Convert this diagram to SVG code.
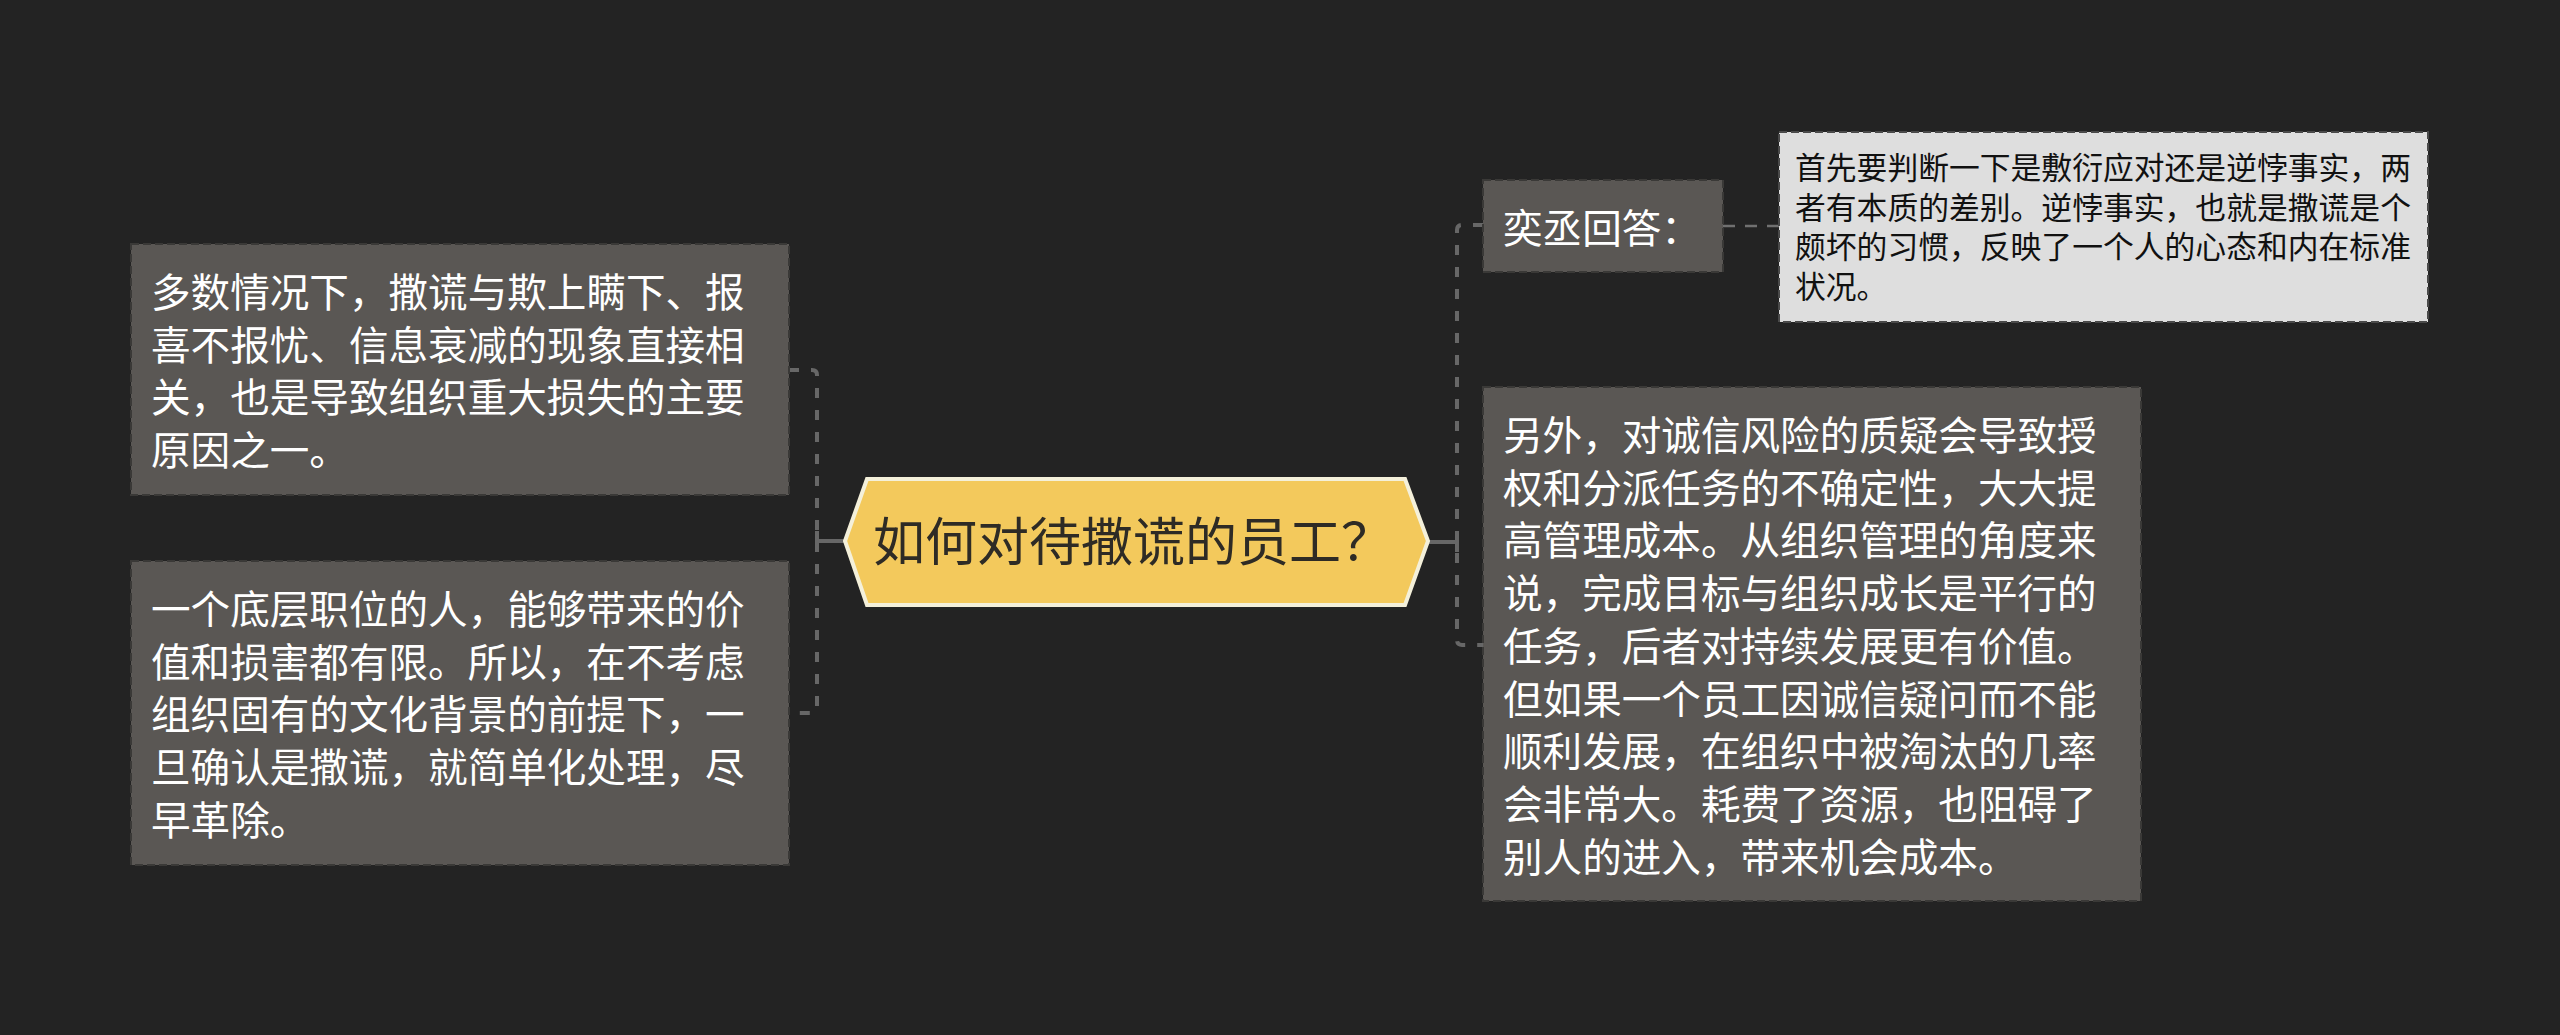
<svg xmlns="http://www.w3.org/2000/svg" width="2560" height="1035" viewBox="0 0 2560 1035">
<style>
  .bg { fill: #232323; }
  .box { fill: #5a5754; stroke: #3a3937; stroke-width: 2; stroke-dasharray: 8 4; }
  .lbox { fill: #dedede; stroke: #4a4a4a; stroke-width: 2; stroke-dasharray: 8 4; }
  .t { font-family: "Noto Sans CJK SC", "Noto Sans", sans-serif; font-size: 39.6px; fill: #ffffff; }
  .ts { font-family: "Noto Sans CJK SC", "Noto Sans", sans-serif; font-size: 30.8px; fill: #111111; }
  .title { font-family: "Noto Sans CJK SC", "Noto Sans", sans-serif; font-size: 52px; fill: #2e2b25; }
  .dash { fill: none; stroke: #676767; stroke-width: 4; stroke-dasharray: 10 12; }
  .solid { fill: none; stroke: #676767; stroke-width: 4; }
  .thin { fill: none; stroke: #707070; stroke-width: 2.5; stroke-dasharray: 12 10; }
</style>
<rect class="bg" x="0" y="0" width="2560" height="1035"/>

<g id="connectors">
  <path class="dash" d="M789,370 H812 Q817,370 817,375 V708 Q817,713 812,713 H789"/>
  <path class="solid" d="M845,541 H817 M817,531 V551"/>
  <path class="dash" d="M1483,225 H1462 Q1457,225 1457,230 V640 Q1457,645 1462,645 H1483"/>
  <path class="solid" d="M1428,542 H1457 M1457,532 V552"/>
  <path class="thin" d="M1723,226 H1779"/>
</g>

<g id="center">
  <polygon points="845,541 867,479 1405,479 1428,541 1405,605 867,605" fill="#f3c95c" stroke="#f4f0da" stroke-width="4"/>
  <text class="title" x="873" y="561">如何对待撒谎的员工？</text>
</g>

<g id="left1">
  <rect class="box" x="131" y="244" width="658" height="251"/>
  <text class="t" x="151" y="307">多数情况下，撒谎与欺上瞒下、报</text>
  <text class="t" x="151" y="359.7">喜不报忧、信息衰减的现象直接相</text>
  <text class="t" x="151" y="412.4">关，也是导致组织重大损失的主要</text>
  <text class="t" x="151" y="465.1">原因之一。</text>
</g>

<g id="left2">
  <rect class="box" x="131" y="561" width="658" height="304"/>
  <text class="t" x="151" y="624">一个底层职位的人，能够带来的价</text>
  <text class="t" x="151" y="676.7">值和损害都有限。所以，在不考虑</text>
  <text class="t" x="151" y="729.4">组织固有的文化背景的前提下，一</text>
  <text class="t" x="151" y="782.1">旦确认是撒谎，就简单化处理，尽</text>
  <text class="t" x="151" y="834.8">早革除。</text>
</g>

<g id="answer">
  <rect class="box" x="1483" y="180" width="240" height="92"/>
  <text class="t" x="1503" y="243">奕丞回答：</text>
</g>

<g id="answer-detail">
  <rect class="lbox" x="1779" y="132" width="649" height="190"/>
  <text class="ts" x="1795" y="179">首先要判断一下是敷衍应对还是逆悖事实，两</text>
  <text class="ts" x="1795" y="218.7">者有本质的差别。逆悖事实，也就是撒谎是个</text>
  <text class="ts" x="1795" y="258.4">颇坏的习惯，反映了一个人的心态和内在标准</text>
  <text class="ts" x="1795" y="298.1">状况。</text>
</g>

<g id="right2">
  <rect class="box" x="1483" y="387" width="658" height="514"/>
  <text class="t" x="1503" y="450">另外，对诚信风险的质疑会导致授</text>
  <text class="t" x="1503" y="502.7">权和分派任务的不确定性，大大提</text>
  <text class="t" x="1503" y="555.4">高管理成本。从组织管理的角度来</text>
  <text class="t" x="1503" y="608.1">说，完成目标与组织成长是平行的</text>
  <text class="t" x="1503" y="660.8">任务，后者对持续发展更有价值。</text>
  <text class="t" x="1503" y="713.5">但如果一个员工因诚信疑问而不能</text>
  <text class="t" x="1503" y="766.2">顺利发展，在组织中被淘汰的几率</text>
  <text class="t" x="1503" y="818.9">会非常大。耗费了资源，也阻碍了</text>
  <text class="t" x="1503" y="871.6">别人的进入，带来机会成本。</text>
</g>
</svg>
